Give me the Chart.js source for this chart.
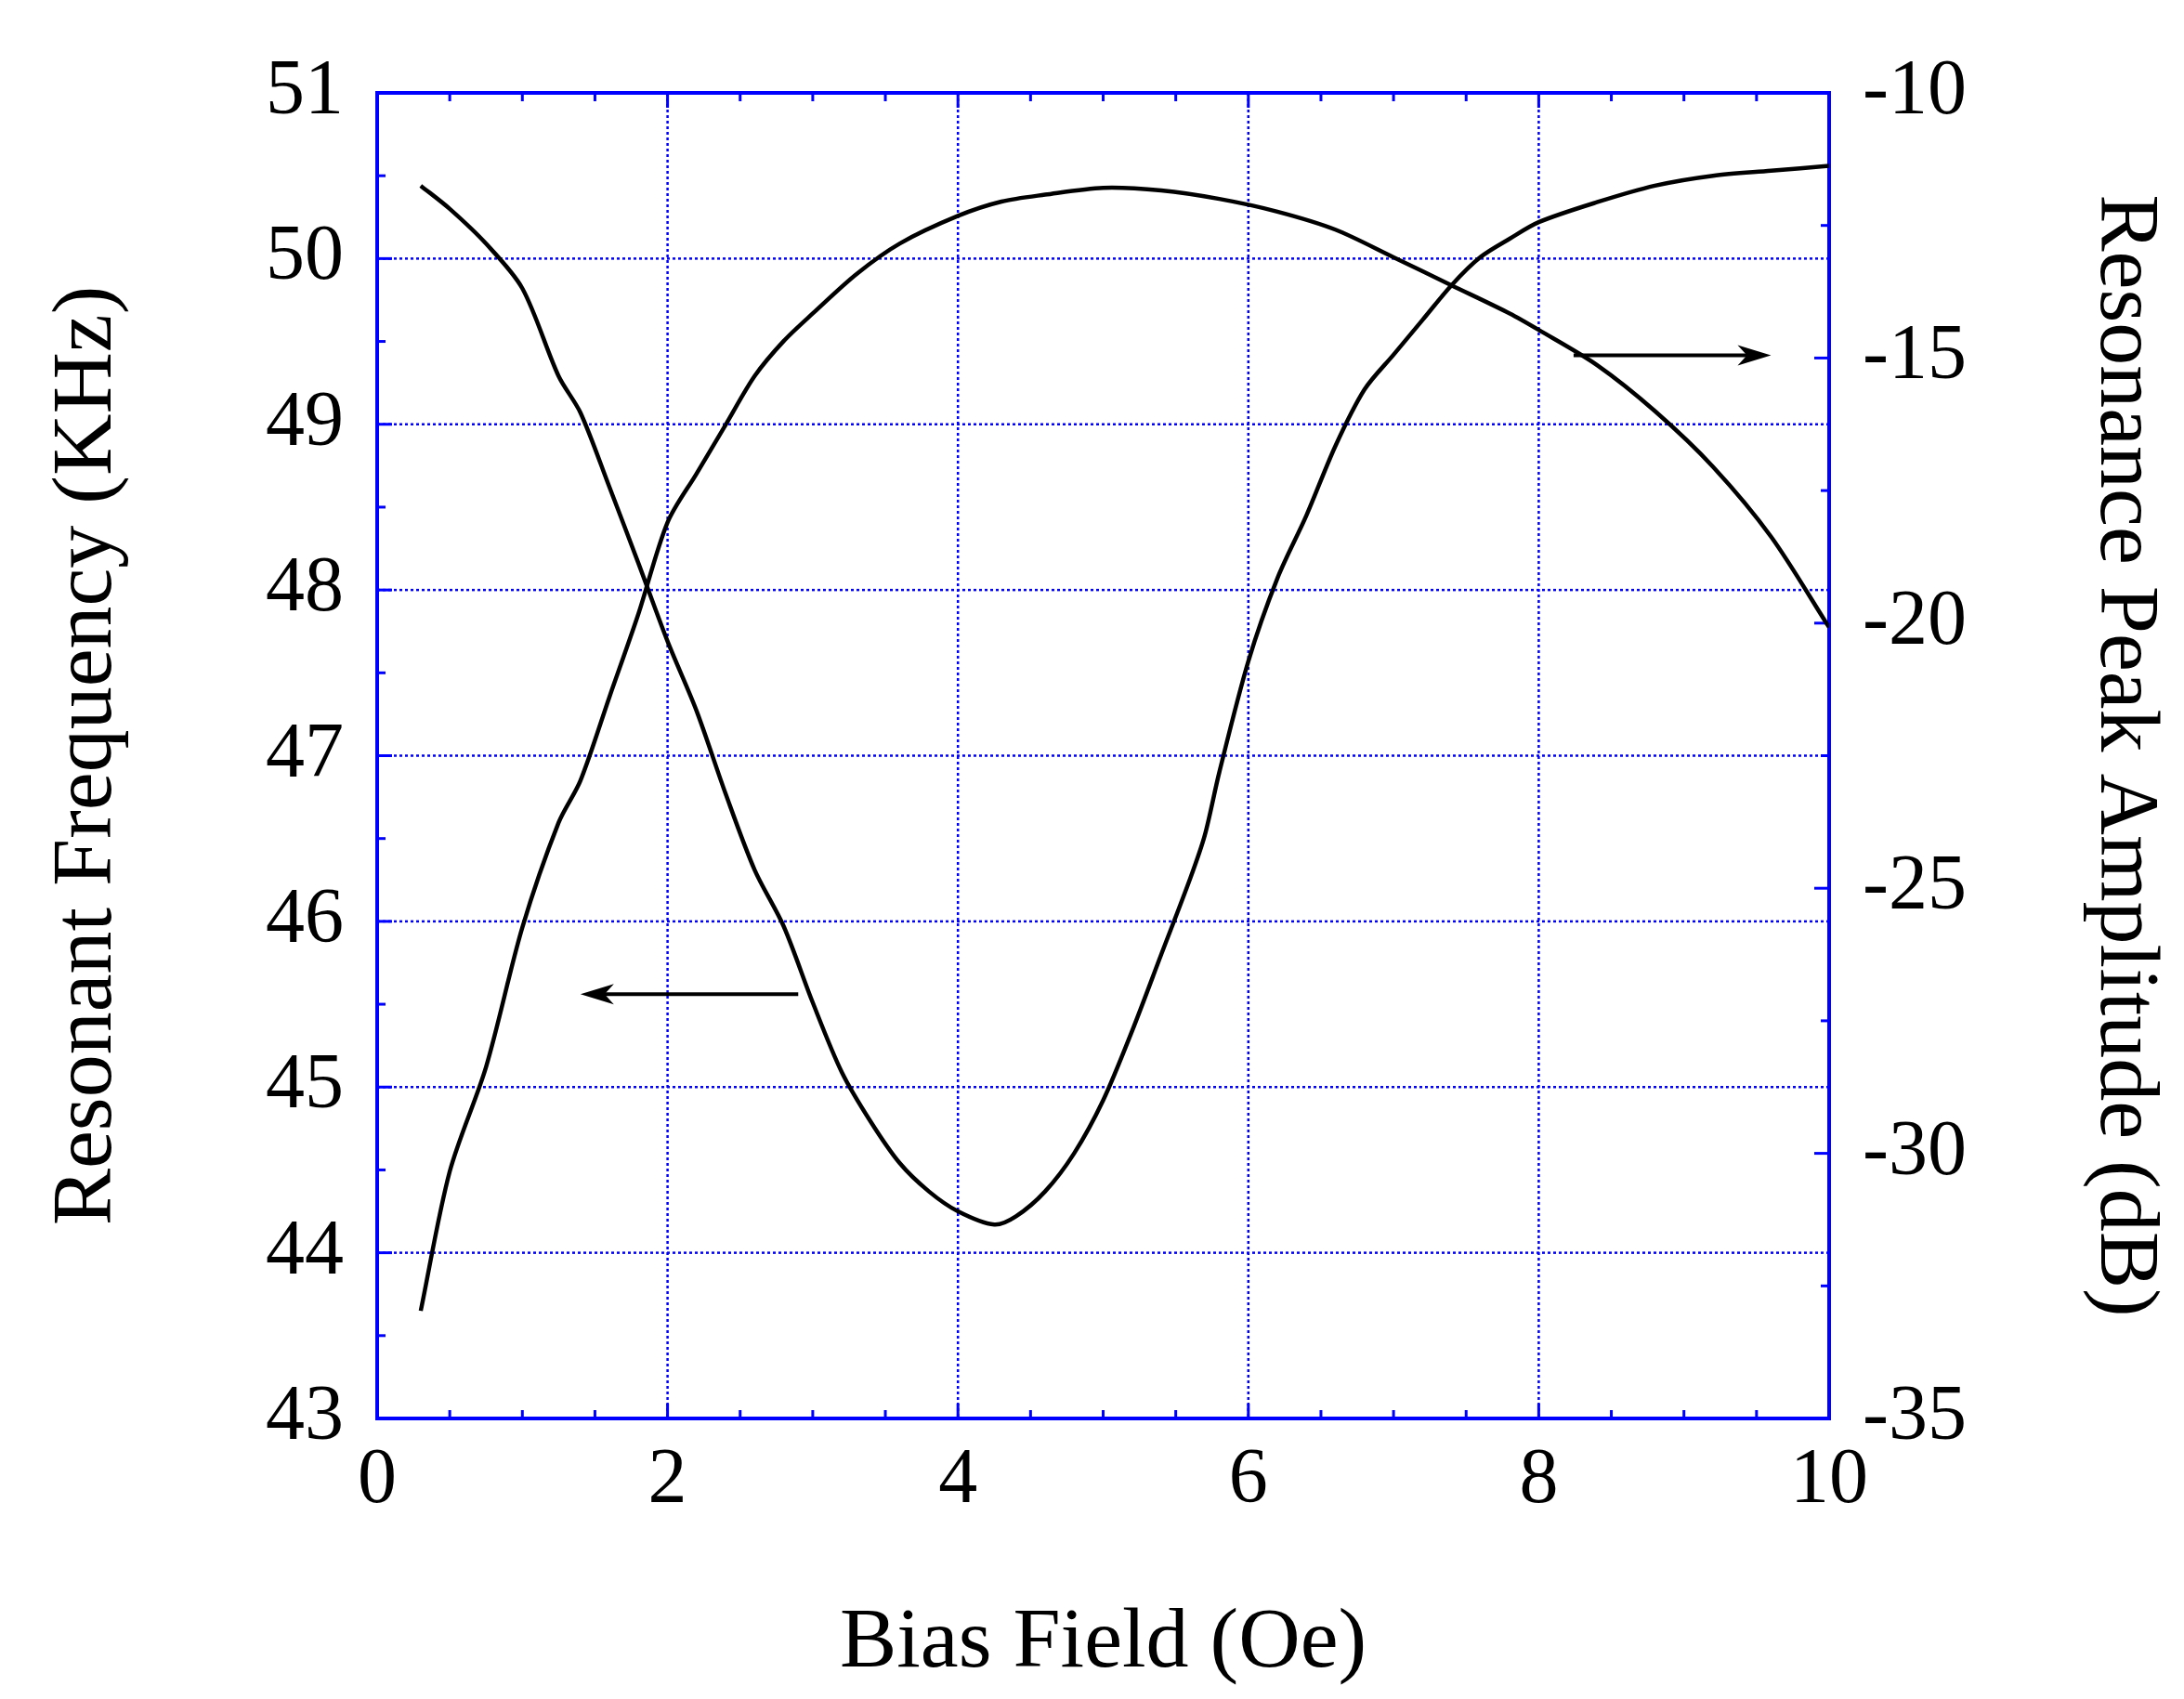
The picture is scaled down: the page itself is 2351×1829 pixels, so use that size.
<!DOCTYPE html>
<html><head><meta charset="utf-8">
<script src="https://cdn.jsdelivr.net/npm/chart.js@4"></script>
<style>html,body{margin:0;padding:0;background:#fff}#w{width:2351px;height:1829px}</style>
</head><body><div id="w"><canvas id="c"></canvas></div>
<script>
const freqX=[0.3,0.5,0.75,1.0,1.25,1.4,1.6,1.8,2.0,2.2,2.4,2.6,2.8,3.0,3.2,3.4,3.6,3.8,4.0,4.25,4.4,4.6,4.8,5.0,5.2,5.4,5.6,5.7,5.8,6.0,6.2,6.4,6.6,6.8,7.0,7.2,7.4,7.6,7.8,8.0,8.4,8.8,9.2,9.6,10.0];
const freqY=[50.44,50.30,50.09,49.82,49.29,49.07,48.62,48.16,47.69,47.27,46.77,46.31,45.97,45.51,45.09,44.79,44.54,44.37,44.25,44.17,44.22,44.37,44.6,44.92,45.34,45.80,46.26,46.52,46.9,47.57,48.07,48.45,48.87,49.21,49.42,49.63,49.84,50.01,50.12,50.22,50.34,50.44,50.50,50.53,50.56];
const ampX=[0.3,0.5,0.75,1.0,1.25,1.4,1.6,1.8,2.0,2.2,2.4,2.6,2.8,3.0,3.3,3.6,4.0,4.3,4.6,5.0,5.4,5.8,6.2,6.6,7.0,7.4,7.8,8.0,8.4,8.8,9.2,9.6,10.0];
const ampY=[-32.97,-30.34,-28.37,-25.74,-23.76,-22.97,-21.39,-19.82,-18.1,-17.18,-16.26,-15.34,-14.68,-14.16,-13.42,-12.84,-12.32,-12.05,-11.92,-11.79,-11.84,-12.0,-12.24,-12.58,-13.1,-13.63,-14.16,-14.47,-15.13,-16.0,-17.05,-18.37,-20.08];
const xTicks=[0,2,4,6,8,10];
const leftTicks=[43,44,45,46,47,48,49,50,51];
const rightTicks=[-35,-30,-25,-20,-15,-10];
const arrows=[{x1:2.9,x2:1.4,y:45.56,axis:'y'},{x1:8.24,x2:9.6,y:-14.95,axis:'y2'}];

const font='"Liberation Serif", "Times New Roman", serif';
const deco={id:'deco',
 beforeDatasetsDraw(ch){const c=ch.ctx,a=ch.chartArea,x=ch.scales.x,y=ch.scales.y,y2=ch.scales.y2;
  c.save();c.strokeStyle='#0000ff';c.lineWidth=2.5;c.setLineDash([3,3]);
  [2,4,6,8].forEach(v=>{const p=x.getPixelForValue(v);c.beginPath();c.moveTo(p,a.top);c.lineTo(p,a.bottom);c.stroke();});
  [44,45,46,47,48,49,50].forEach(v=>{const p=y.getPixelForValue(v);c.beginPath();c.moveTo(a.left,p);c.lineTo(a.right,p);c.stroke();});
  c.setLineDash([]);c.lineWidth=3;
  for(let v=0;v<=10;v+=0.5){const p=x.getPixelForValue(v),L=(v%2===0)?16:9;
   c.beginPath();c.moveTo(p,a.bottom);c.lineTo(p,a.bottom-L);c.moveTo(p,a.top);c.lineTo(p,a.top+L);c.stroke();}
  for(let v=43;v<=51;v+=0.5){const p=y.getPixelForValue(v),L=(v%1===0)?16:9;
   c.beginPath();c.moveTo(a.left,p);c.lineTo(a.left+L,p);c.stroke();}
  for(let v=-35;v<=-10;v+=2.5){const p=y2.getPixelForValue(v),L=(v%5===0)?16:9;
   c.beginPath();c.moveTo(a.right,p);c.lineTo(a.right-L,p);c.stroke();}
  c.lineWidth=4;c.strokeRect(a.left,a.top,a.right-a.left,a.bottom-a.top);
  c.restore();},
 afterDatasetsDraw(ch){const c=ch.ctx,x=ch.scales.x;c.save();c.strokeStyle='#000';c.fillStyle='#000';c.lineWidth=4;
  arrows.forEach(ar=>{const s=ch.scales[ar.axis];const p1=x.getPixelForValue(ar.x1),p2=x.getPixelForValue(ar.x2),py=s.getPixelForValue(ar.y);
   const d=Math.sign(p2-p1);c.beginPath();c.moveTo(p1,py);c.lineTo(p2-d*20,py);c.stroke();
   c.beginPath();c.moveTo(p2,py);c.lineTo(p2-d*36,py-11);c.lineTo(p2-d*26,py);c.lineTo(p2-d*36,py+11);c.closePath();c.fill();});
  c.restore();}};
const tk={size:84,family:font};
const tf={size:92,family:font};
new Chart(document.getElementById('c'),{type:'scatter',
 data:{datasets:[
  {data:freqX.map((v,i)=>({x:v,y:freqY[i]})),yAxisID:'y',showLine:true,borderColor:'#000',borderWidth:4.5,pointRadius:0,tension:0.3},
  {data:ampX.map((v,i)=>({x:v,y:ampY[i]})),yAxisID:'y2',showLine:true,borderColor:'#000',borderWidth:4.5,pointRadius:0,tension:0.3}]},
 options:{responsive:true,maintainAspectRatio:false,animation:false,
  layout:{padding:{top:100,left:0,right:0,bottom:0}},
  plugins:{legend:{display:false},tooltip:{enabled:false}},
  scales:{
   x:{type:'linear',min:0,max:10,afterBuildTicks:s=>{s.ticks=xTicks.map(v=>({value:v}))},afterFit:s=>{s.height=302},
    grid:{display:false,drawTicks:false},border:{display:false},ticks:{padding:18,color:'#000',font:tk},
    title:{display:true,text:'Bias Field (Oe)',color:'#000',font:tf,padding:{top:20}}},
   y:{type:'linear',position:'left',min:43,max:51,afterBuildTicks:s=>{s.ticks=leftTicks.map(v=>({value:v}))},afterFit:s=>{s.width=406},
    grid:{display:false,drawTicks:false},border:{display:false},ticks:{padding:36,color:'#000',font:tk},
    title:{display:true,text:'Resonant Frequency (KHz)',color:'#000',font:tf,padding:{top:40,bottom:10}}},
   y2:{type:'linear',position:'right',min:-35,max:-10,afterBuildTicks:s=>{s.ticks=rightTicks.map(v=>({value:v}))},afterFit:s=>{s.width=382},
    grid:{display:false,drawTicks:false},border:{display:false},ticks:{padding:36,color:'#000',font:tk},
    title:{display:true,text:'Resonance Peak Amplitude (dB)',color:'#000',font:tf,padding:{top:10,bottom:40}}}}},
 plugins:[deco]});
</script></body></html>
